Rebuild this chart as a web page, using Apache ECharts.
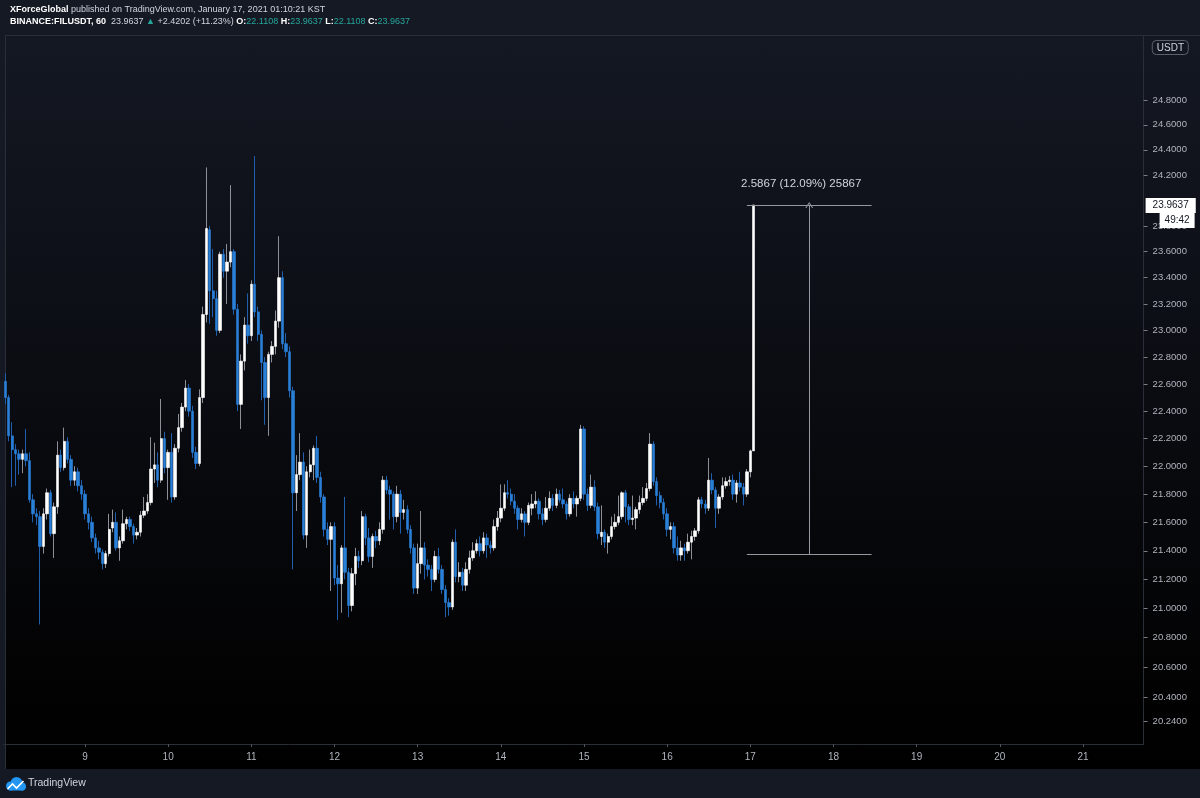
<!DOCTYPE html>
<html>
<head>
<meta charset="utf-8">
<script src="https://cdn.jsdelivr.net/npm/echarts@6/dist/echarts.min.js"></script>
<style>
html,body{margin:0;padding:0;background:#151924;width:1200px;height:798px;overflow:hidden}
#panel{position:absolute;left:5px;top:35px;width:1195px;height:734px;box-sizing:border-box;border-top:1px solid #2a2e39;border-left:1px solid #2a2e39;background:linear-gradient(to bottom,#141823 0%,#0b0d13 45%,#030304 85%,#000 100%)}
#chart{position:absolute;left:0;top:0;width:1200px;height:798px}
</style>
</head>
<body>
<div id="panel"></div>
<div id="chart"></div>
<script>
// ---- Data: FILUSDT hourly candles, Jan 8 01:00 -> Jan 17 01:00 (KST) ----
const opens = [
22.62,22.50,22.22,22.12,22.09,22.05,22.09,22.04,21.76,21.66,
21.64,21.43,21.66,21.81,21.52,21.71,22.08,21.99,22.18,22.05,
21.90,21.96,21.86,21.80,21.66,21.60,21.49,21.42,21.39,21.31,
21.38,21.56,21.60,21.42,21.47,21.59,21.62,21.57,21.51,21.53,
21.65,21.68,21.74,21.98,22.01,21.90,22.20,21.99,22.10,21.78,
22.13,22.28,22.43,22.57,22.40,22.10,22.02,22.50,23.12,23.77,
23.30,23.24,23.00,23.58,23.45,23.52,23.60,23.16,22.45,22.77,
23.04,22.96,23.35,23.14,22.97,22.76,22.50,22.82,22.88,23.07,
23.40,22.90,22.84,22.55,21.81,21.94,22.03,21.51,21.96,22.01,
22.13,21.92,21.78,21.55,21.48,21.57,21.21,21.17,21.42,21.25,
21.02,21.24,21.36,21.33,21.64,21.49,21.36,21.50,21.47,21.55,
21.90,21.83,21.80,21.64,21.80,21.67,21.69,21.55,21.42,21.14,
21.31,21.42,21.30,21.27,21.20,21.36,21.27,21.13,21.04,21.01,
21.46,21.22,21.25,21.16,21.27,21.35,21.40,21.45,21.40,21.49,
21.44,21.42,21.57,21.63,21.70,21.81,21.80,21.75,21.70,21.62,
21.66,21.60,21.70,21.73,21.75,21.66,21.62,21.70,21.77,21.72,
21.80,21.76,21.73,21.66,21.77,21.73,21.77,22.27,21.80,21.72,
21.85,21.71,21.50,21.53,21.46,21.50,21.57,21.60,21.64,21.81,
21.71,21.62,21.63,21.69,21.74,21.77,21.84,22.16,21.89,21.79,
21.74,21.66,21.55,21.57,21.42,21.37,21.42,21.40,21.46,21.50,
21.54,21.76,21.73,21.70,21.90,21.83,21.70,21.78,21.86,21.89,
21.90,21.80,21.88,21.85,21.80,21.96,22.1108
];
const highs = [
22.68,22.52,22.32,22.16,22.12,22.12,22.27,22.10,21.80,21.70,
21.68,21.70,21.84,21.83,21.74,22.18,22.12,22.28,22.21,22.08,
22.00,21.99,21.90,21.83,21.70,21.64,21.52,21.47,21.41,21.40,
21.66,21.69,21.67,21.50,21.69,21.64,21.64,21.59,21.56,21.68,
21.78,21.80,22.21,22.17,22.10,22.49,22.25,22.12,22.24,22.16,
22.38,22.46,22.63,22.60,22.44,22.14,22.56,23.18,24.26,23.80,
23.62,23.30,23.60,23.62,23.66,24.12,23.62,23.20,22.82,23.10,
23.28,23.38,24.35,23.18,23.00,22.80,22.84,22.92,23.15,23.72,
23.45,22.98,22.88,22.58,22.08,22.24,22.10,22.00,22.12,22.15,
22.22,21.96,21.80,21.60,21.60,21.60,21.30,21.44,21.78,21.28,
21.28,21.42,21.40,21.68,21.66,21.56,21.52,21.54,21.60,21.93,
21.93,21.86,21.82,21.86,21.83,21.76,21.72,21.58,21.45,21.45,
21.68,21.46,21.34,21.30,21.40,21.42,21.30,21.16,21.07,21.48,
21.55,21.32,21.28,21.32,21.40,21.46,21.48,21.50,21.53,21.52,
21.47,21.62,21.68,21.87,21.87,21.90,21.84,21.80,21.72,21.70,
21.68,21.74,21.80,21.82,21.77,21.70,21.78,21.82,21.80,21.84,
21.83,21.84,21.75,21.80,21.82,21.79,22.30,22.29,21.84,21.94,
21.90,21.74,21.72,21.55,21.52,21.64,21.66,21.79,21.82,21.83,
21.73,21.79,21.71,21.79,21.85,21.88,22.24,22.18,21.92,21.82,
21.77,21.70,21.60,21.60,21.50,21.47,21.45,21.52,21.54,21.56,
21.78,21.78,21.76,22.06,21.95,21.85,21.80,21.92,21.92,21.93,
21.94,21.90,21.96,21.88,21.98,22.12,23.9637
];
const lows = [
22.45,22.18,21.85,21.86,21.94,21.95,22.00,21.74,21.60,21.58,
20.89,21.38,21.62,21.50,21.35,21.66,21.96,21.97,22.02,21.86,
21.86,21.82,21.76,21.62,21.55,21.46,21.38,21.34,21.27,21.28,
21.36,21.53,21.40,21.33,21.45,21.55,21.54,21.45,21.48,21.50,
21.63,21.66,21.72,21.88,21.85,21.88,21.95,21.76,21.74,21.76,
22.10,22.25,22.40,22.36,22.06,21.98,22.00,22.46,23.06,23.05,
23.10,22.96,22.98,23.40,23.20,23.48,23.12,22.40,22.27,22.70,
22.90,22.92,23.10,22.92,22.48,22.30,22.22,22.76,22.82,23.02,
22.86,22.80,22.50,21.27,21.68,21.90,21.48,21.42,21.92,21.90,
21.88,21.74,21.50,21.44,21.12,21.16,20.92,20.97,21.20,20.94,
20.98,21.16,21.28,21.30,21.44,21.32,21.28,21.42,21.44,21.52,
21.80,21.62,21.55,21.60,21.52,21.62,21.52,21.38,21.10,21.10,
21.24,21.20,21.22,21.12,21.18,21.24,21.10,20.94,20.95,20.99,
21.18,21.18,21.12,21.12,21.24,21.33,21.38,21.36,21.38,21.35,
21.38,21.40,21.54,21.60,21.68,21.77,21.72,21.66,21.55,21.60,
21.50,21.58,21.65,21.70,21.62,21.58,21.60,21.68,21.68,21.70,
21.74,21.70,21.62,21.64,21.70,21.64,21.75,21.76,21.68,21.70,
21.68,21.48,21.44,21.42,21.38,21.48,21.55,21.58,21.62,21.60,
21.58,21.58,21.55,21.66,21.72,21.75,21.82,21.86,21.72,21.70,
21.62,21.50,21.48,21.38,21.33,21.33,21.33,21.38,21.34,21.47,
21.52,21.70,21.66,21.68,21.80,21.56,21.66,21.76,21.84,21.86,
21.76,21.74,21.82,21.72,21.78,21.92,22.1108
];
const closes = [
22.50,22.22,22.12,22.09,22.05,22.09,22.04,21.76,21.66,21.64,
21.43,21.66,21.81,21.52,21.71,22.08,21.99,22.18,22.05,21.90,
21.96,21.86,21.80,21.66,21.60,21.49,21.42,21.39,21.31,21.38,
21.55,21.60,21.42,21.47,21.59,21.62,21.57,21.51,21.53,21.65,
21.68,21.74,21.98,22.01,21.90,22.20,21.99,22.10,21.78,22.13,
22.28,22.43,22.57,22.40,22.10,22.02,22.50,23.12,23.78,23.30,
23.24,23.00,23.58,23.45,23.52,23.60,23.16,22.45,22.77,23.04,
22.96,23.35,23.14,22.97,22.76,22.50,22.82,22.88,23.07,23.40,
22.90,22.84,22.55,21.81,21.94,22.03,21.51,21.96,22.01,22.13,
21.92,21.78,21.55,21.48,21.57,21.21,21.17,21.42,21.25,21.02,
21.24,21.36,21.33,21.64,21.49,21.36,21.50,21.47,21.55,21.90,
21.83,21.80,21.64,21.80,21.67,21.69,21.55,21.42,21.14,21.31,
21.42,21.30,21.27,21.20,21.36,21.27,21.13,21.04,21.01,21.46,
21.22,21.25,21.16,21.27,21.35,21.40,21.45,21.40,21.49,21.44,
21.42,21.57,21.63,21.70,21.81,21.80,21.75,21.70,21.62,21.66,
21.60,21.72,21.73,21.75,21.66,21.62,21.70,21.77,21.72,21.80,
21.76,21.73,21.66,21.77,21.73,21.77,22.27,21.80,21.72,21.85,
21.71,21.52,21.53,21.46,21.50,21.57,21.60,21.64,21.81,21.71,
21.62,21.63,21.69,21.74,21.77,21.84,22.16,21.89,21.79,21.74,
21.66,21.55,21.57,21.42,21.37,21.42,21.40,21.46,21.50,21.54,
21.76,21.73,21.70,21.90,21.83,21.70,21.78,21.86,21.89,21.90,
21.80,21.88,21.85,21.80,21.96,22.1108,23.9637
];

// price-scale tick labels (log scale, as on the TradingView chart)
const priceTicks = [20.24,20.4,20.6,20.8,21.0,21.2,21.4,21.6,21.8,22.0,22.2,22.4,22.6,22.8,23.0,23.2,23.4,23.6,23.8,24.2,24.4,24.6,24.8];
const priceMin = 20.0887, priceMax = 25.3258;
// hourly time slots: first = 2021-01-08 01:00, total slots on the axis
const startHourUTC = Date.UTC(2021,0,8,1);
const slotCount = 329;
// measure tool (price range)
const measureLow = 21.3770, measureHigh = 23.9637;
const measureStart = 214, measureEnd = 250, measureMid = 232;
const measureText = '2.5867 (12.09%) 25867';
const lastPrice = 23.9637, countdown = '49:42';
const change = '+2.4202 (+11.23%)';

// ---- build ----
const categories = [];
for (let k = 0; k < slotCount; k++) {
  const d = new Date(startHourUTC + k * 3600000);
  const hh = String(d.getUTCHours()).padStart(2,'0');
  categories.push(d.getUTCDate() + ' ' + hh + ':00');
}
const L = Math.log;
const wickData = opens.map((o,i) => [L(o), L(closes[i]), L(lows[i]), L(highs[i])]);
const bodyData = opens.map((o,i) => [L(o), L(closes[i]), L(Math.min(o,closes[i])), L(Math.max(o,closes[i]))]);
const tickLn = priceTicks.map(v => L(v));
const isDayStart = (idx, val) => / 00:00$/.test(val);

const FONT = 'Liberation Sans, Arial, sans-serif';
const n = opens.length - 1;
const teal = '#26a69a';
const HIDDEN_LINE = { color: 'rgba(0,0,0,0)', width: 0 };

const chart = echarts.init(document.getElementById('chart'));
chart.setOption({
  backgroundColor: 'transparent',
  animation: false,
  textStyle: { fontFamily: FONT },
  title: [
    {
      left: 5, top: 0, itemGap: 3,
      text: '{b|XForceGlobal} published on TradingView.com, January 17, 2021 01:10:21 KST',
      textStyle: { color: '#d1d4dc', fontSize: 9, fontWeight: 'normal', fontFamily: FONT,
        rich: { b: { color: '#ffffff', fontWeight: 'bold', fontSize: 9, fontFamily: FONT } } },
      subtext: '{b|BINANCE:FILUSDT, 60}  {w|' + closes[n].toFixed(4) + '} {g|▲} {w|' + change + '} ' +
        '{b|O:}{g|' + opens[n].toFixed(4) + '} {b|H:}{g|' + highs[n].toFixed(4) + '} {b|L:}{g|' + lows[n].toFixed(4) + '} {b|C:}{g|' + closes[n].toFixed(4) + '}',
      subtextStyle: { color: '#d1d4dc', fontSize: 9, fontFamily: FONT,
        rich: {
          b: { color: '#ffffff', fontWeight: 'bold', fontSize: 9, fontFamily: FONT },
          w: { color: '#d1d4dc', fontSize: 9, fontFamily: FONT },
          g: { color: teal, fontSize: 9, fontFamily: FONT }
        } }
    },
    {
      right: 11, top: 40, text: 'USDT',
      backgroundColor: '#131722', borderColor: '#5d606b', borderWidth: 1, borderRadius: 4,
      padding: [3, 5, 2, 5],
      textStyle: { color: '#d1d4dc', fontSize: 10, fontWeight: 'normal', fontFamily: FONT }
    },
    {
      left: 28, top: 778, text: 'TradingView', padding: 0,
      textStyle: { color: '#d1d4dc', fontSize: 10.5, fontWeight: 'normal', fontFamily: FONT }
    }
  ],
  graphic: [
    { type: 'group', left: 5, top: 777, children: [
      { type: 'circle', shape: { cx: 6, cy: 9, r: 4.5 }, style: { fill: '#2196f3' } },
      { type: 'circle', shape: { cx: 12, cy: 6, r: 6 }, style: { fill: '#2196f3' } },
      { type: 'circle', shape: { cx: 17.5, cy: 9.5, r: 4 }, style: { fill: '#2196f3' } },
      { type: 'rect', shape: { x: 5, y: 9, width: 14, height: 4.5 }, style: { fill: '#2196f3' } },
      { type: 'polyline', shape: { points: [[3,12],[8,7],[12,11],[19,4]] }, style: { stroke: '#ffffff', lineWidth: 1.6, fill: null } }
    ] }
  ],
  grid: { left: 3.56, right: 56.4, top: 36, bottom: 54 },
  xAxis: {
    type: 'category', data: categories, boundaryGap: true,
    axisLine: { show: true, lineStyle: { color: '#2a2e39' } },
    axisTick: { show: true, interval: isDayStart, alignWithLabel: true, length: 3, lineStyle: { color: '#50535e' } },
    axisLabel: { interval: isDayStart, formatter: v => v.split(' ')[0], color: '#b2b5be', fontSize: 10, margin: 8, fontFamily: FONT },
    splitLine: { show: false }
  },
  yAxis: {
    type: 'value', position: 'right', min: L(priceMin), max: L(priceMax),
    axisLine: { show: true, lineStyle: { color: '#2a2e39' } },
    axisTick: { show: true, customValues: tickLn, length: 4, lineStyle: { color: '#787b86' } },
    axisLabel: { customValues: tickLn, formatter: v => Math.exp(v).toFixed(4), color: '#b2b5be', fontSize: 9.5, margin: 9, fontFamily: FONT },
    splitLine: { show: false }
  },
  series: [
    {
      name: 'wicks', type: 'candlestick', data: wickData, barWidth: 1,
      itemStyle: { color: '#8c8f97', color0: '#1f5fae', borderColor: '#8c8f97', borderColor0: '#1f5fae', borderWidth: 1 }
    },
    {
      name: 'FILUSDT', type: 'candlestick', data: bodyData, barWidth: 2.9,
      itemStyle: { color: '#ffffff', color0: '#2a7fd6', borderColor: '#ffffff', borderColor0: '#2a7fd6', borderWidth: 0.6 },
      markLine: {
        silent: true, symbol: ['none', 'none'], animation: false,
        data: [
          [ { coord: [measureStart, L(measureHigh)] }, { coord: [measureEnd, L(measureHigh)] } ],
          [ { coord: [measureStart, L(measureLow)] }, { coord: [measureEnd, L(measureLow)] } ],
          [ { coord: [measureMid, L(measureLow)], symbol: 'none' },
            { coord: [measureMid, L(measureHigh)], symbol: 'path://M0,10 L5,0 L10,10 L8.6,10 L5,2.8 L1.4,10 Z', symbolSize: [8, 6],
              label: { show: true, position: 'end', formatter: measureText, color: '#d1d4dc', fontSize: 11.5, distance: 15, offset: [-8, 0], fontFamily: FONT } } ],
          { yAxis: L(lastPrice), lineStyle: HIDDEN_LINE,
            label: { show: true, position: 'end', distance: 2, offset: [0, 11], formatter: lastPrice.toFixed(4), backgroundColor: '#ffffff', color: '#131722', fontSize: 10, padding: [3, 7, 2, 7], fontFamily: FONT } },
          { yAxis: L(lastPrice), lineStyle: HIDDEN_LINE,
            label: { show: true, position: 'end', distance: 16, offset: [0, 26], formatter: countdown, backgroundColor: '#ffffff', color: '#131722', fontSize: 10, padding: [3, 5, 2, 5], fontFamily: FONT } }
        ],
        lineStyle: { color: '#9598a1', width: 1, type: 'solid' },
        label: { show: false }
      }
    }
  ]
});
</script>
</body>
</html>
